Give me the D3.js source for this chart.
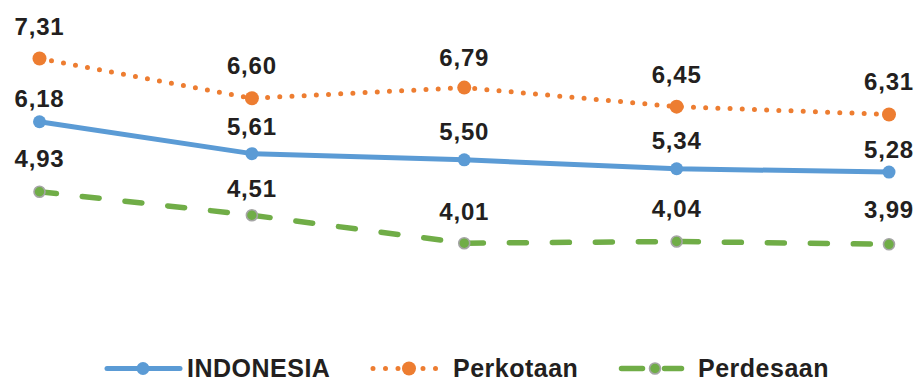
<!DOCTYPE html>
<html>
<head>
<meta charset="utf-8">
<script src="https://cdn.jsdelivr.net/npm/d3@7"></script>
<style>
  html, body { margin: 0; padding: 0; background: #fff; }
  svg { display: block; }
  text { font-family: Arial, "Liberation Sans", Helvetica, sans-serif; font-weight: bold; fill: #231f20; }
</style>
</head>
<body>
<svg id="chart" width="917" height="382"></svg>
<script>
// Periods along the horizontal axis (not labelled on the chart)
const periods = ["Periode 1", "Periode 2", "Periode 3", "Periode 4", "Periode 5"];

// Series values
const indonesia = [6.18, 5.61, 5.50, 5.34, 5.28];
const perkotaan = [7.31, 6.60, 6.79, 6.45, 6.31];
const perdesaan = [4.93, 4.51, 4.01, 4.04, 3.99];

const seriesNames = ["INDONESIA", "Perkotaan", "Perdesaan"];

const svg = d3.select("#chart");
const fmt = v => d3.format(".2f")(v).replace(".", ",");

const x = d3.scalePoint().domain(periods).range([39.5, 889]);
const y = d3.scaleLinear().domain([0, 8]).range([467.6, 19.9]);

// Drawing style of each series
const styles = {
  INDONESIA: { color: "#5b9bd5", width: 5, dash: null, legendDash: null, cap: "round", r: 6.5, markerStroke: null },
  Perkotaan: { color: "#ed7d31", width: 5, dash: "0 12.2", legendDash: "0 12.5", cap: "round", r: 7, markerStroke: null },
  Perdesaan: { color: "#70ad47", width: 5.5, dash: "17 26", legendDash: "21 22", cap: "round", r: 5.5, markerStroke: "#a5a5a5" }
};

// Vertical distance from each marker to its value label's baseline
const labelGap = {
  INDONESIA: [15, 19, 20, 20, 14.5],
  Perkotaan: [24, 24, 22, 23.5, 24],
  Perdesaan: [25, 18, 23, 25, 26]
};

const series = [
  { name: "Perdesaan", values: perdesaan },
  { name: "INDONESIA", values: indonesia },
  { name: "Perkotaan", values: perkotaan }
];

const line = d3.line().x((d, i) => x(periods[i])).y(d => y(d));

series.forEach(s => {
  const st = styles[s.name];
  const g = svg.append("g").attr("class", "series");
  g.append("path")
    .datum(s.values)
    .attr("d", line)
    .attr("fill", "none")
    .attr("stroke", st.color)
    .attr("stroke-width", st.width)
    .attr("stroke-linecap", st.cap)
    .attr("stroke-linejoin", "round")
    .attr("stroke-dasharray", st.dash);
  g.selectAll("circle")
    .data(s.values)
    .join("circle")
    .attr("cx", (d, i) => x(periods[i]))
    .attr("cy", d => y(d))
    .attr("r", st.r)
    .attr("fill", st.color)
    .attr("stroke", st.markerStroke || "none")
    .attr("stroke-width", st.markerStroke ? 1.6 : 0);
});

// Value labels
series.forEach(s => {
  svg.append("g").selectAll("text")
    .data(s.values)
    .join("text")
    .attr("x", (d, i) => x(periods[i]))
    .attr("y", (d, i) => y(d) - labelGap[s.name][i])
    .attr("text-anchor", "middle")
    .attr("font-size", 24)
    .attr("letter-spacing", 0.8)
    .text(d => fmt(d));
});

// Legend
const legendItems = [
  { name: "INDONESIA", x0: 107, x1: 180, mx: 143, tx: 187 },
  { name: "Perkotaan", x0: 373, x1: 438, mx: 409, tx: 453 },
  { name: "Perdesaan", x0: 621.5, x1: 681.5, mx: 655, tx: 698 }
];
const legY = 368.5;
const legend = svg.append("g").attr("class", "legend");
legendItems.forEach(it => {
  const st = styles[it.name];
  legend.append("line")
    .attr("x1", it.x0).attr("x2", it.x1)
    .attr("y1", legY).attr("y2", legY)
    .attr("stroke", st.color)
    .attr("stroke-width", st.width)
    .attr("stroke-linecap", st.cap)
    .attr("stroke-dasharray", st.legendDash);
  legend.append("circle")
    .attr("cx", it.mx).attr("cy", legY)
    .attr("r", st.r)
    .attr("fill", st.color)
    .attr("stroke", st.markerStroke || "none")
    .attr("stroke-width", st.markerStroke ? 1.6 : 0);
  legend.append("text")
    .attr("x", it.tx).attr("y", 377)
    .attr("font-size", 25)
    .attr("letter-spacing", 0.5)
    .text(it.name);
});
</script>
</body>
</html>
